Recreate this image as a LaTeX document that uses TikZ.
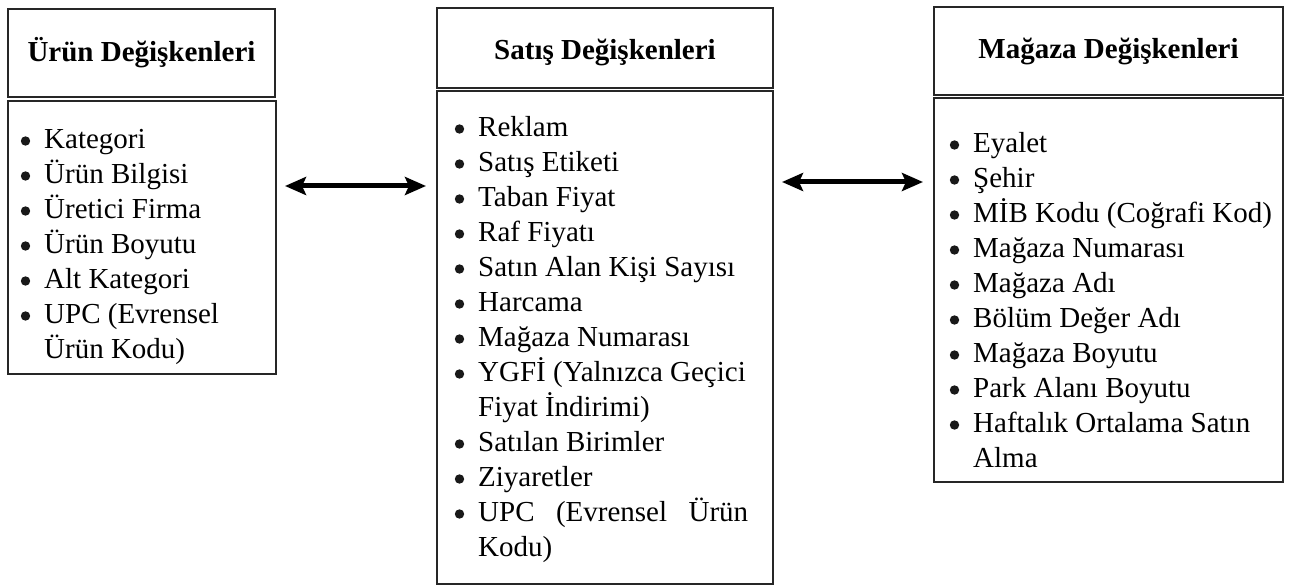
\documentclass[tikz,border=0pt]{standalone}
\usepackage{fontspec}
\setmainfont{Liberation Serif}
\usetikzlibrary{arrows.meta}
\begin{document}
\begin{tikzpicture}[x=1pt,y=1pt,
  boxframe/.style={draw=black!85, line width=1.6pt, inner sep=0pt, outer sep=0pt, anchor=north west},
  headbox/.style={boxframe, font=\fontsize{29}{35}\selectfont\bfseries, align=center},
  titletext/.style={font=\fontsize{29}{35}\selectfont\bfseries, inner sep=0pt},
  listtext/.style={font=\fontsize{29}{35}\selectfont, inner sep=0pt, anchor=base west},
  bulletdot/.style={fill=black!90},
  biarrow/.style={line width=5pt, {Stealth[length=21pt,width=18pt,inset=4pt]}-{Stealth[length=21pt,width=18pt,inset=4pt]}}
]
\useasboundingbox (0,0) rectangle (1292,-585);
\fill[white] (0,0) rectangle (1292,-585);

% left column
\node[headbox, minimum width=267pt, minimum height=88pt] (lhead) at (8,-9) {Ürün Değişkenleri};
\node[boxframe, minimum width=268pt, minimum height=273pt] (lbody) at (8,-101) {};
\node[listtext] (ltext) at (44,-149) {\parbox[t]{230pt}{\raggedright
Kategori\\
Ürün Bilgisi\\
Üretici Firma\\
Ürün Boyutu\\
Alt Kategori\\
UPC (Evrensel\\
Ürün Kodu)}};
\foreach \i in {0,...,5} \fill[bulletdot] (25.5,-141-35*\i) circle (4.7pt);

% middle column
\node[boxframe, minimum width=336pt, minimum height=80pt] (mhead) at (437,-8) {};
\node[titletext] (mtitle) at ([yshift=-4pt]mhead.center) {Satış Değişkenleri};
\node[boxframe, minimum width=336pt, minimum height=493pt] (mbody) at (437,-91) {};
\node[listtext] (mtext) at (478,-137) {\parbox[t]{280pt}{\raggedright
Reklam\\
Satış Etiketi\\
Taban Fiyat\\
Raf Fiyatı\\
Satın Alan Kişi Sayısı\\
Harcama\\
Mağaza Numarası\\
YGFİ (Yalnızca Geçici\\
Fiyat İndirimi)\\
Satılan Birimler\\
Ziyaretler\\
\makebox[270pt][s]{UPC (Evrensel Ürün}\\
Kodu)}};
\foreach \i in {0,...,7,9,10,11} \fill[bulletdot] (459.5,-129-35*\i) circle (4.7pt);

% right column
\node[headbox, minimum width=349pt, minimum height=88pt] (rhead) at (934,-7) {Mağaza Değişkenleri};
\node[boxframe, minimum width=349pt, minimum height=384pt] (rbody) at (934,-98) {};
\node[listtext] (rtext) at (973,-153) {\parbox[t]{305pt}{\raggedright
Eyalet\\
Şehir\\
MİB Kodu (Coğrafi Kod)\\
Mağaza Numarası\\
Mağaza Adı\\
Bölüm Değer Adı\\
Mağaza Boyutu\\
Park Alanı Boyutu\\
Haftalık Ortalama Satın\\
Alma}};
\foreach \i in {0,...,8} \fill[bulletdot] (954.5,-145-35*\i) circle (4.7pt);

% arrows
\coordinate (a1l) at (285,-186);
\coordinate (a1r) at (426,-186);
\coordinate (a2l) at (782,-182);
\coordinate (a2r) at (923,-182);
\draw[biarrow] (a1l) -- (a1r);
\draw[biarrow] (a2l) -- (a2r);
\end{tikzpicture}
\end{document}
